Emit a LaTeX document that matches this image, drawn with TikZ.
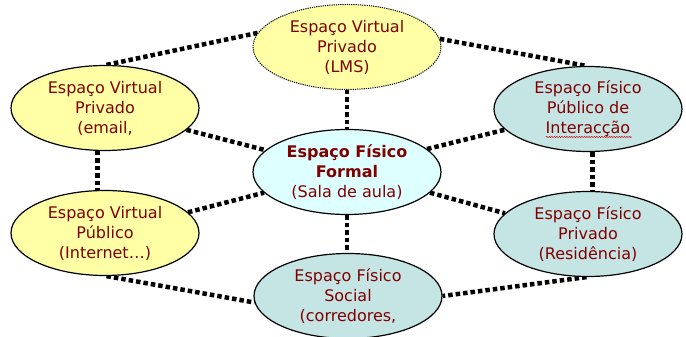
\documentclass[tikz,border=0pt]{standalone}
\usepackage{fontspec}
\setmainfont{DejaVu Sans}
\usetikzlibrary{shapes.geometric,backgrounds,decorations.pathmorphing}
\definecolor{esp_red}{RGB}{128, 0, 0}
\definecolor{esp_yellow}{RGB}{255, 255, 165}
\definecolor{esp_blue}{RGB}{197, 229, 229}
\definecolor{esp_cyan}{RGB}{221, 255, 255}
\tikzstyle{en}=[ellipse,draw=black,line width=1.2pt,inner sep=0pt,
  minimum width=188pt,minimum height=85pt,align=center,text=esp_red,
  font=\fontsize{16}{20}\selectfont]
\tikzstyle{vn}=[en,fill=esp_yellow]
\tikzstyle{fn}=[en,fill=esp_blue]
\tikzstyle{cn}=[en,fill=esp_cyan]
\tikzstyle{link}=[line width=4.5pt,dash pattern=on 4.5pt off 3pt]
\tikzstyle{spell}=[draw=red!80!black,line width=0.5pt,
  decorate,decoration={snake,amplitude=0.6pt,segment length=2.5pt}]

\begin{document}
\begin{tikzpicture}[x=1pt, y=1pt]
            \useasboundingbox (0, 0) rectangle (686, 337);
            \node [style=vn, densely dotted, line width=1pt] (0) at (347, 290) {Espaço Virtual\\Privado\\(LMS)};
            \node [style=vn] (1) at (105, 229) {Espaço Virtual\\Privado\\(email,};
            \node [style=vn] (2) at (105, 104) {Espaço Virtual\\Público\\(Internet…)};
            \node [style=cn] (3) at (347, 165) {\textbf{Espaço Físico}\\\textbf{Formal}\\(Sala de aula)};
            \node [style=fn] (4) at (588, 228) {Espaço Físico\\Público de\\Interacção};
            \node [style=fn] (5) at (588, 103) {Espaço Físico\\Privado\\(Residência)};
            \node [style=fn] (6) at (348, 41) {Espaço Físico\\Social\\(corredores,};
            \draw [style=spell] ([xshift=-42pt, yshift=-28pt]4.center) -- ++(86, 0);
            \begin{scope}[on background layer]
            \draw [style=link] (1.88) to (0.171);
            \draw [style=link] (0.5) to (4.92);
            \draw [style=link] (0.south) to (3.north);
            \draw [style=link] (1.345) to (3.165);
            \draw [style=link] (1.260) to (2.100);
            \draw [style=link] (2.14) to (3.194);
            \draw [style=link] (2.272) to (6.184);
            \draw [style=link] (3.south) to (3.south |- 6.north);
            \draw [style=link] (3.16) to (4.194);
            \draw [style=link] (3.346) to (5.166);
            \draw [style=link] (4.276) to (5.84);
            \draw [style=link] (5.268) to (6.0);
            \end{scope}
    \end{tikzpicture}
\end{document}
